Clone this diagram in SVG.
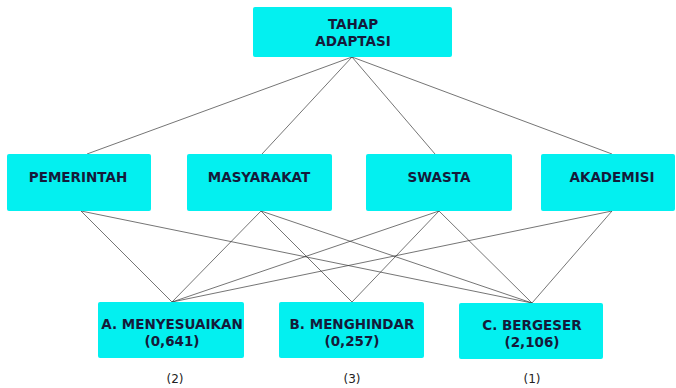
<svg xmlns="http://www.w3.org/2000/svg" width="676" height="388" viewBox="0 0 676 388">
<style>
.box{fill:#03f0f0;}
.t{font-family:"DejaVu Sans",Verdana,sans-serif;font-weight:bold;font-size:13.5px;fill:#151a3a;text-anchor:middle;}
.r{font-family:"DejaVu Sans",Verdana,sans-serif;font-size:12px;fill:#222;text-anchor:middle;}
.c line{stroke:#3a3a3a;stroke-width:0.7;}
</style>
<rect width="676" height="388" fill="#ffffff"/>
<g class="c" id="connectors">
<line x1="352" y1="57" x2="87" y2="154"/>
<line x1="352" y1="57" x2="262" y2="154"/>
<line x1="352" y1="57" x2="435" y2="154"/>
<line x1="352" y1="57" x2="612" y2="154"/>
<line x1="81" y1="211" x2="172" y2="302"/>
<line x1="81" y1="211" x2="532" y2="303"/>
<line x1="261" y1="211" x2="172" y2="302"/>
<line x1="261" y1="211" x2="352" y2="302"/>
<line x1="261" y1="211" x2="532" y2="303"/>
<line x1="439" y1="211" x2="172" y2="302"/>
<line x1="439" y1="211" x2="352" y2="302"/>
<line x1="439" y1="211" x2="532" y2="303"/>
<line x1="612" y1="211" x2="172" y2="302"/>
<line x1="612" y1="211" x2="532" y2="303"/>
</g>
<g id="tahap">
<rect class="box" x="253" y="7" width="199" height="50" rx="2"/>
<text class="t" x="353" y="29">TAHAP</text>
<text class="t" x="353" y="46">ADAPTASI</text>
</g>
<g id="pemerintah">
<rect class="box" x="7" y="154" width="144" height="57" rx="2"/>
<text class="t" x="78" y="182">PEMERINTAH</text>
</g>
<g id="masyarakat">
<rect class="box" x="187" y="154" width="145" height="57" rx="2"/>
<text class="t" x="259" y="182">MASYARAKAT</text>
</g>
<g id="swasta">
<rect class="box" x="366" y="154" width="146" height="57" rx="2"/>
<text class="t" x="439" y="182">SWASTA</text>
</g>
<g id="akademisi">
<rect class="box" x="541" y="154" width="134" height="57" rx="2"/>
<text class="t" x="612" y="182">AKADEMISI</text>
</g>
<g id="menyesuaikan">
<rect class="box" x="98" y="302" width="146" height="56" rx="2"/>
<text class="t" x="172" y="329">A. MENYESUAIKAN</text>
<text class="t" x="172" y="346">(0,641)</text>
</g>
<g id="menghindar">
<rect class="box" x="279" y="302" width="145" height="56" rx="2"/>
<text class="t" x="352" y="329">B. MENGHINDAR</text>
<text class="t" x="352" y="346">(0,257)</text>
</g>
<g id="bergeser">
<rect class="box" x="459" y="303" width="144" height="56" rx="2"/>
<text class="t" x="532" y="330">C. BERGESER</text>
<text class="t" x="532" y="347">(2,106)</text>
</g>
<g id="ranks">
<text class="r" x="175" y="383">(2)</text>
<text class="r" x="352" y="383">(3)</text>
<text class="r" x="532" y="383">(1)</text>
</g>
</svg>
